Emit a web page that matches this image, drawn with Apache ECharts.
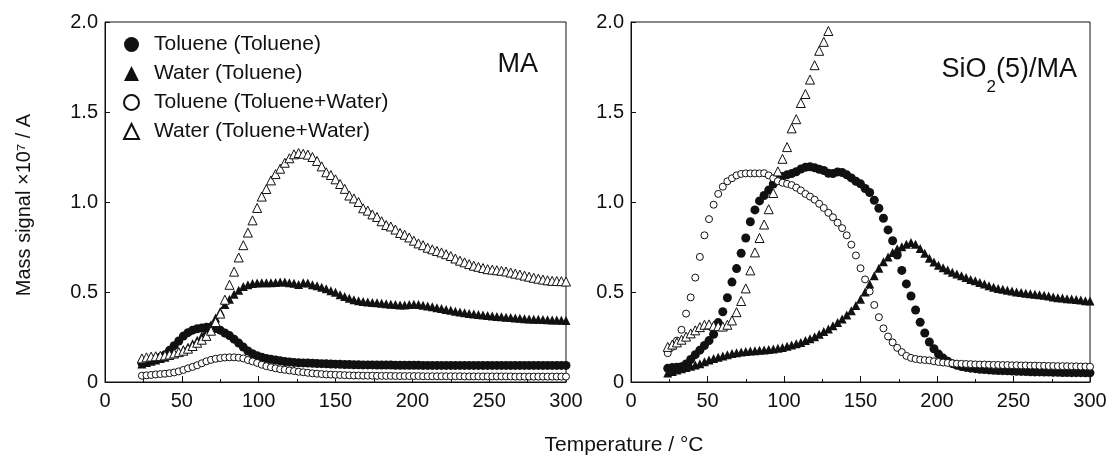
<!DOCTYPE html>
<html>
<head>
<meta charset="utf-8">
<script src="https://cdn.jsdelivr.net/npm/echarts@6/dist/echarts.min.js"></script>
<style>
html,body{margin:0;padding:0;background:#fff;}
#c{width:1114px;height:456px;}
</style>
</head>
<body>
<div id="c"></div>
<script>
// Temperature samples (°C)
const temps = [24,27,30,33,36,39,42,45,48,51,54,57,60,63,66,69,72,75,78,81,84,87,90,93,96,99,102,105,108,111,114,117,120,123,126,129,132,135,138,141,144,147,150,153,156,159,162,165,168,171,174,177,180,183,186,189,192,195,198,201,204,207,210,213,216,219,222,225,228,231,234,237,240,243,246,249,252,255,258,261,264,267,270,273,276,279,282,285,288,291,294,297,300];

const seriesNames = ['Toluene (Toluene)', 'Water (Toluene)', 'Toluene (Toluene+Water)', 'Water (Toluene+Water)'];
const xTickLabels = ['0','50','100','150','200','250','300'];
const yTickLabels = ['0','0.5','1.0','1.5','2.0'];
const panelLabels = ['MA', '{m|SiO}{s|2}{m|(5)/MA}'];

// ---- Panel MA ----
const maTolTol = [0.105,0.113,0.120,0.128,0.138,0.151,0.176,0.202,0.228,0.255,
0.274,0.288,0.296,0.300,0.304,0.305,0.297,0.288,0.272,0.258,
0.238,0.216,0.194,0.172,0.157,0.146,0.138,0.131,0.126,0.122,
0.118,0.114,0.111,0.109,0.107,0.106,0.105,0.104,0.103,0.102,
0.101,0.100,0.099,0.098,0.097,0.097,0.096,0.096,0.095,0.095,
0.095,0.094,0.094,0.094,0.094,0.093,0.093,0.093,0.093,0.093,
0.093,0.092,0.092,0.092,0.092,0.092,0.092,0.092,0.092,0.092,
0.092,0.092,0.092,0.092,0.092,0.092,0.092,0.092,0.092,0.092,
0.092,0.092,0.092,0.092,0.092,0.092,0.092,0.092,0.092,0.092,
0.092,0.092,0.092];
const maWatTol = [0.100,0.108,0.115,0.122,0.130,0.138,0.147,0.157,0.168,0.180,
0.195,0.212,0.232,0.256,0.285,0.318,0.355,0.392,0.430,0.460,
0.488,0.510,0.530,0.540,0.547,0.550,0.552,0.552,0.552,0.553,
0.556,0.555,0.552,0.548,0.542,0.552,0.550,0.540,0.535,0.527,
0.518,0.507,0.498,0.485,0.475,0.465,0.457,0.452,0.447,0.445,
0.442,0.440,0.438,0.435,0.432,0.430,0.428,0.428,0.430,0.432,
0.430,0.427,0.422,0.418,0.413,0.408,0.403,0.398,0.393,0.389,
0.385,0.381,0.378,0.375,0.372,0.369,0.366,0.364,0.362,0.360,
0.358,0.356,0.354,0.352,0.350,0.349,0.348,0.347,0.346,0.345,
0.344,0.343,0.342];
const maTolTW = [0.035,0.037,0.039,0.042,0.044,0.046,0.049,0.053,0.059,0.067,
0.076,0.084,0.093,0.104,0.115,0.123,0.129,0.133,0.136,0.137,
0.137,0.135,0.131,0.122,0.114,0.106,0.096,0.088,0.082,0.076,
0.071,0.068,0.064,0.061,0.057,0.054,0.051,0.048,0.046,0.044,
0.042,0.041,0.040,0.039,0.038,0.037,0.036,0.036,0.035,0.035,
0.035,0.034,0.034,0.034,0.034,0.033,0.033,0.033,0.033,0.033,
0.033,0.032,0.032,0.032,0.032,0.032,0.032,0.032,0.032,0.032,
0.031,0.031,0.031,0.031,0.031,0.031,0.031,0.031,0.031,0.031,
0.031,0.030,0.030,0.030,0.030,0.030,0.030,0.030,0.030,0.030,
0.030,0.030,0.030];
const maWatTW = [0.131,0.137,0.141,0.143,0.145,0.148,0.153,0.159,0.166,0.174,
0.185,0.200,0.218,0.235,0.256,0.285,0.333,0.380,0.457,0.540,
0.613,0.692,0.760,0.830,0.898,0.967,1.030,1.072,1.120,1.155,
1.185,1.218,1.243,1.265,1.272,1.268,1.263,1.250,1.228,1.198,
1.165,1.150,1.126,1.100,1.073,1.036,1.020,1.000,0.965,0.952,
0.931,0.917,0.893,0.872,0.864,0.847,0.828,0.818,0.803,0.785,
0.770,0.760,0.746,0.737,0.728,0.720,0.710,0.700,0.686,0.674,
0.665,0.655,0.646,0.640,0.633,0.627,0.624,0.621,0.618,0.614,
0.608,0.602,0.597,0.591,0.585,0.579,0.574,0.569,0.565,0.562,
0.561,0.560,0.558];

// ---- Panel SiO2(5)/MA ----
const siTolTol = [0.076,0.080,0.082,0.085,0.100,0.125,0.152,0.177,0.203,0.230,
0.265,0.330,0.390,0.468,0.555,0.630,0.715,0.800,0.890,0.956,
1.006,1.036,1.066,1.100,1.130,1.141,1.151,1.158,1.168,1.183,
1.193,1.196,1.190,1.182,1.175,1.160,1.158,1.167,1.164,1.151,
1.134,1.115,1.101,1.075,1.053,1.010,0.965,0.910,0.845,0.785,
0.705,0.620,0.545,0.478,0.400,0.332,0.272,0.222,0.185,0.155,
0.133,0.115,0.102,0.093,0.086,0.081,0.077,0.074,0.071,0.069,
0.067,0.065,0.064,0.063,0.062,0.061,0.060,0.059,0.058,0.057,
0.056,0.056,0.055,0.055,0.054,0.054,0.053,0.053,0.052,0.052,
0.052,0.051,0.051];
const siWatTol = [0.050,0.058,0.066,0.073,0.080,0.087,0.094,0.102,0.112,0.122,
0.130,0.138,0.145,0.152,0.158,0.163,0.167,0.170,0.172,0.174,
0.176,0.178,0.180,0.183,0.187,0.192,0.198,0.205,0.212,0.220,
0.230,0.240,0.252,0.265,0.280,0.295,0.312,0.330,0.350,0.372,
0.396,0.425,0.460,0.500,0.545,0.590,0.632,0.668,0.695,0.720,
0.740,0.752,0.765,0.775,0.765,0.742,0.715,0.688,0.666,0.648,
0.635,0.622,0.610,0.600,0.590,0.580,0.570,0.562,0.553,0.545,
0.535,0.527,0.520,0.515,0.510,0.505,0.500,0.497,0.493,0.490,
0.488,0.485,0.482,0.478,0.472,0.468,0.466,0.463,0.461,0.458,
0.455,0.452,0.450];
const siTolTW = [0.160,0.195,0.230,0.290,0.380,0.470,0.580,0.695,0.815,0.905,
0.985,1.045,1.085,1.115,1.132,1.148,1.156,1.159,1.159,1.159,
1.159,1.160,1.148,1.132,1.116,1.107,1.101,1.094,1.080,1.064,
1.045,1.030,1.013,0.990,0.967,0.940,0.915,0.885,0.855,0.815,
0.763,0.703,0.632,0.570,0.503,0.428,0.360,0.298,0.253,0.220,
0.190,0.166,0.145,0.134,0.128,0.124,0.122,0.120,0.115,0.111,
0.108,0.106,0.104,0.102,0.101,0.100,0.099,0.098,0.097,0.097,
0.096,0.095,0.095,0.094,0.094,0.093,0.093,0.092,0.092,0.091,
0.091,0.090,0.090,0.089,0.089,0.088,0.088,0.088,0.087,0.087,
0.086,0.086,0.085];
const siWatTW = [0.195,0.208,0.220,0.235,0.252,0.270,0.287,0.305,0.318,0.320,
0.312,0.310,0.308,0.318,0.342,0.388,0.450,0.520,0.620,0.720,
0.800,0.875,0.960,1.050,1.170,1.240,1.305,1.409,1.460,1.550,
1.600,1.680,1.760,1.840,1.890,1.950];

function pairs(vals){ return vals.map(function(v,i){ return [temps[i], v]; }); }

const FONT = "'Liberation Sans', Arial, sans-serif";
const INK = '#111111';

const styles = [
  {symbol:'circle', symbolSize:9, itemStyle:{color:INK, opacity:1}},
  {symbol:'triangle', symbolSize:9, itemStyle:{color:INK, opacity:1}},
  {symbol:'circle', symbolSize:7, itemStyle:{color:'#fff', borderColor:INK, borderWidth:1, opacity:1}},
  {symbol:'triangle', symbolSize:9, itemStyle:{color:'#fff', borderColor:INK, borderWidth:1, opacity:1}}
];

const panels = [[maTolTol, maWatTol, maTolTW, maWatTW],[siTolTol, siWatTol, siTolTW, siWatTW]];
const series = [];
panels.forEach(function(p, gi){
  p.forEach(function(vals, k){
    series.push(Object.assign({
      type:'scatter', name: seriesNames[k], xAxisIndex: gi, yAxisIndex: gi,
      data: pairs(vals), z: 2 + k, emphasis:{disabled:true}
    }, styles[k]));
  });
});

function mkX(gi){
  return {
    type:'value', gridIndex: gi, min:0, max:300, interval:50,
    axisLine:{show:true, onZero:false, lineStyle:{color:INK, width:1}},
    axisTick:{show:true, inside:true, length:6, lineStyle:{color:INK}},
    minorTick:{show:true, splitNumber:2, length:3, lineStyle:{color:INK}},
    splitLine:{show:false},
    axisLabel:{fontSize:20, color:INK, fontFamily:FONT, margin:9,
      formatter:function(v){ return xTickLabels[Math.round(v/50)]; }}
  };
}
function mkY(gi){
  return {
    type:'value', gridIndex: gi, min:0, max:2, interval:0.5,
    axisLine:{show:true, onZero:false, lineStyle:{color:INK, width:1}},
    axisTick:{show:true, inside:true, length:5, lineStyle:{color:INK}},
    splitLine:{show:false},
    axisLabel:{fontSize:20, color:INK, fontFamily:FONT, margin:7,
      formatter:function(v){ return yTickLabels[Math.round(v/0.5)]; }}
  };
}

const chart = echarts.init(document.getElementById('c'), null, {renderer:'canvas'});
chart.setOption({
  animation:false,
  backgroundColor:'#fff',
  grid:[
    {left:105, top:22, width:461, height:360, show:true, borderColor:INK, borderWidth:1},
    {left:631, top:22, width:459, height:360, show:true, borderColor:INK, borderWidth:1}
  ],
  xAxis:[mkX(0), mkX(1)],
  yAxis:[mkY(0), mkY(1)],
  legend:{
    data: seriesNames, orient:'vertical', left:118, top:29,
    itemWidth:15, itemHeight:15, itemGap:8,
    itemStyle:{opacity:1},
    textStyle:{fontSize:21, color:INK, fontFamily:FONT, padding:[0,0,0,10]},
    selectedMode:false
  },
  graphic:[
    {type:'text', x:538, y:65, style:{text:panelLabels[0], font:'27px '+FONT, fill:INK, align:'right', verticalAlign:'middle'}},
    {type:'text', x:1077, y:56, style:{text:panelLabels[1], fill:INK, align:'right', verticalAlign:'top',
       rich:{
         m:{fontSize:27, fontFamily:FONT, fill:INK, lineHeight:27, verticalAlign:'top'},
         s:{fontSize:17, fontFamily:FONT, fill:INK, lineHeight:40, verticalAlign:'bottom'}
       }}},
    {type:'text', x:624, y:445, style:{text:'Temperature / °C', font:'21px '+FONT, fill:INK, align:'center', verticalAlign:'middle'}},
    {type:'text', x:24, y:205, rotation:Math.PI/2, style:{text:'Mass signal ×10⁷ / A', font:'20px '+FONT, fill:INK, align:'center', verticalAlign:'middle'}}
  ],
  series: series
});
</script>
</body>
</html>
